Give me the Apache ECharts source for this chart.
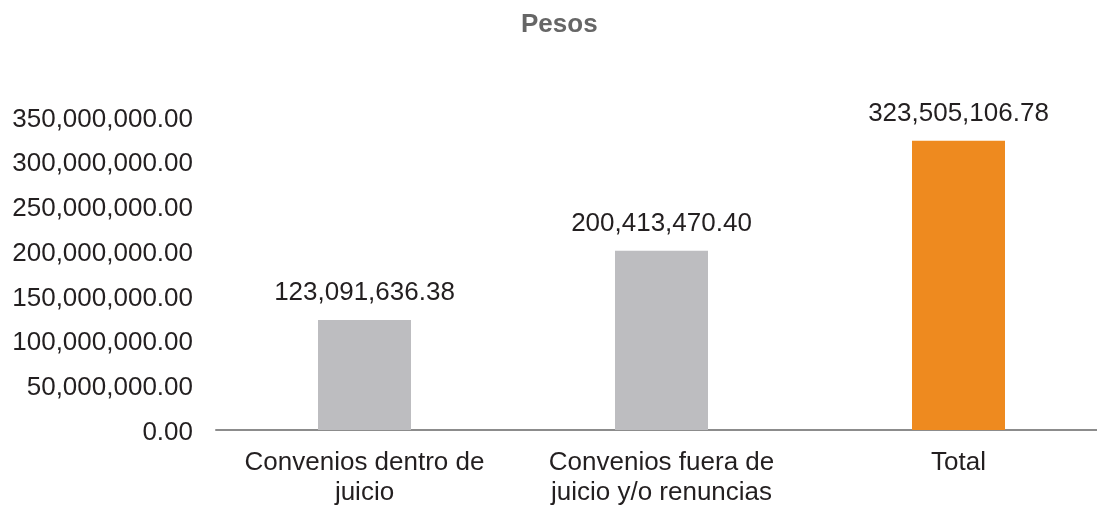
<!DOCTYPE html>
<html>
<head>
<meta charset="utf-8">
<script src="https://cdn.jsdelivr.net/npm/echarts@6/dist/echarts.min.js"></script>
<style>
  html, body { margin: 0; padding: 0; background: #ffffff; overflow: hidden; }
  /* the category axis runs a little past the right edge of the window */
  #chart { width: 1107px; height: 508px; }
</style>
</head>
<body>
<div id="chart"></div>
<script>
// Settlement amounts in pesos
const categories = ['Convenios dentro de\njuicio', 'Convenios fuera de\njuicio y/o renuncias', 'Total'];
const amounts = [123091636.38, 200413470.40, 323505106.78];
const barColors = ['#bdbdc0', '#bdbdc0', '#ee8a1f'];

const yMin = 0;
const yMax = 350000000;
const yStep = 50000000;

const FONT = '"Liberation Sans", Arial, Helvetica, sans-serif';
const TEXT = '#231f20';

function money(v) {
  return Number(v).toLocaleString('en-US', { minimumFractionDigits: 2, maximumFractionDigits: 2 });
}

const chart = echarts.init(document.getElementById('chart'), null, { renderer: 'canvas' });
chart.setOption({
  backgroundColor: '#ffffff',
  animation: false,
  title: {
    text: 'Pesos',
    left: 516,
    top: 7,
    textStyle: { fontFamily: FONT, fontSize: 26, fontWeight: 'bold', color: '#666666' }
  },
  grid: { left: 216, right: 0, top: 117, bottom: 76, containLabel: false },
  xAxis: {
    type: 'category',
    data: categories,
    axisLine: { show: true, lineStyle: { color: '#8c8c8c', width: 2 } },
    axisTick: { show: false },
    axisLabel: {
      fontFamily: FONT, fontSize: 26, color: TEXT, margin: 18, lineHeight: 30,
      interval: 0
    },
    splitLine: { show: false }
  },
  yAxis: {
    type: 'value',
    min: yMin,
    max: yMax,
    interval: yStep,
    axisLine: { show: false },
    axisTick: { show: false },
    splitLine: { show: false },
    axisLabel: {
      fontFamily: FONT, fontSize: 26, color: TEXT, margin: 23,
      formatter: value => '{v|' + money(value) + '}',
      rich: { v: { fontFamily: FONT, fontSize: 26, color: TEXT, lineHeight: 26, padding: [5, 0, 0, 0] } }
    }
  },
  series: [{
    type: 'bar',
    data: amounts.map((v, i) => ({ value: v, itemStyle: { color: barColors[i] } })),
    barWidth: 93,
    label: {
      show: true,
      position: 'top',
      distance: 14,
      fontFamily: FONT, fontSize: 26, color: TEXT, lineHeight: 26,
      formatter: p => money(p.value)
    }
  }]
});
</script>
</body>
</html>
